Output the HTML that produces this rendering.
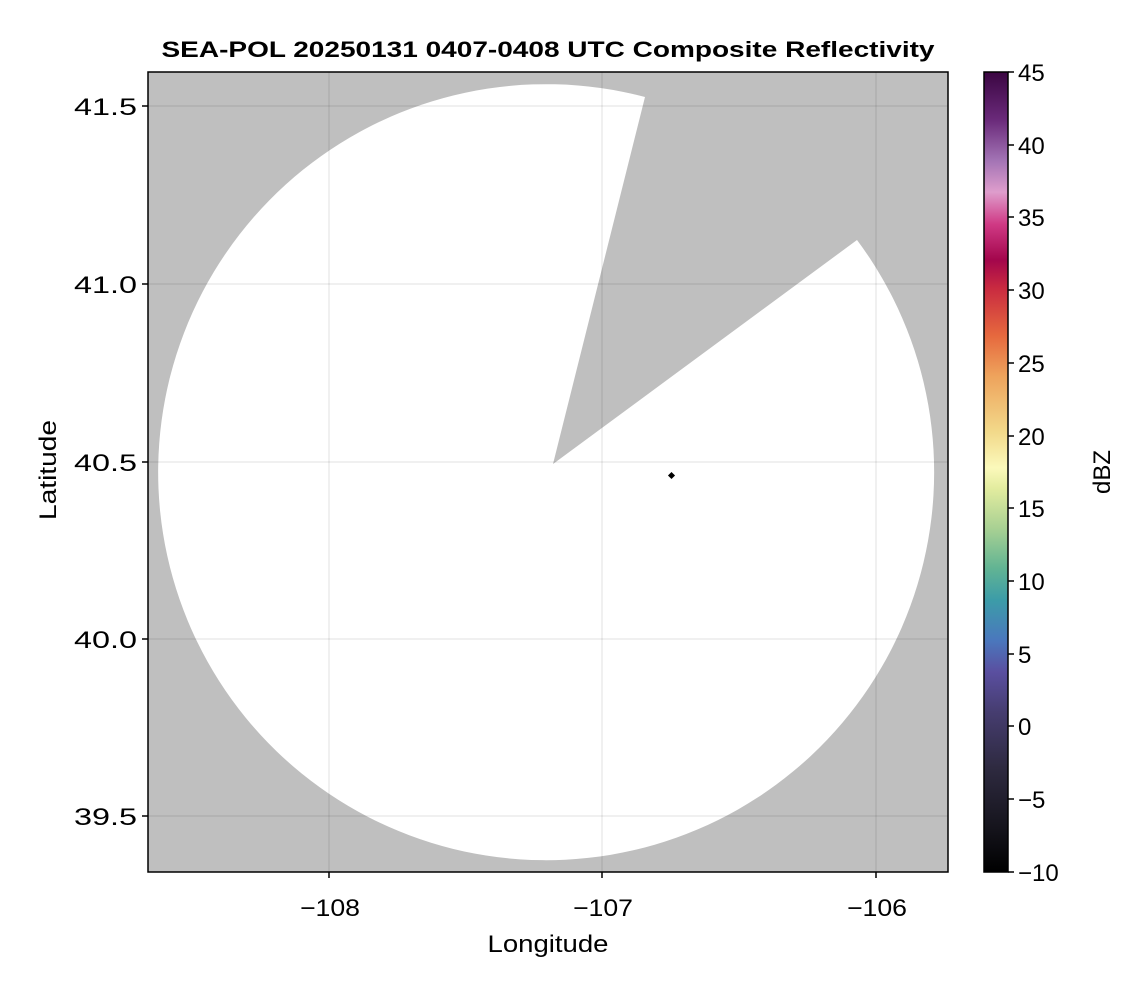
<!DOCTYPE html>
<html><head><style>
body{margin:0;background:#fff;font-family:"Liberation Sans",sans-serif;}
</style></head><body>
<svg width="1146" height="990" xmlns="http://www.w3.org/2000/svg" font-family="Liberation Sans, sans-serif">
<defs>
<linearGradient id="cb" x1="0" y1="1" x2="0" y2="0">
<stop offset="0" stop-color="#000000"/>
<stop offset="0.055" stop-color="#15141c"/>
<stop offset="0.13" stop-color="#2e2a40"/>
<stop offset="0.2" stop-color="#463d70"/>
<stop offset="0.25" stop-color="#5a4fa0"/>
<stop offset="0.29" stop-color="#4a78bd"/>
<stop offset="0.34" stop-color="#3c9ca8"/>
<stop offset="0.38" stop-color="#62b493"/>
<stop offset="0.43" stop-color="#a9d193"/>
<stop offset="0.48" stop-color="#e3ec9f"/>
<stop offset="0.505" stop-color="#fbf9bb"/>
<stop offset="0.55" stop-color="#f2d98a"/>
<stop offset="0.62" stop-color="#eea35c"/>
<stop offset="0.67" stop-color="#e6693e"/>
<stop offset="0.73" stop-color="#c92a40"/>
<stop offset="0.765" stop-color="#a3064c"/>
<stop offset="0.81" stop-color="#d03a85"/>
<stop offset="0.85" stop-color="#de9dcc"/>
<stop offset="0.89" stop-color="#a273b4"/>
<stop offset="0.94" stop-color="#6a2a7a"/>
<stop offset="1" stop-color="#3b0642"/>
</linearGradient>
</defs>
<text x="548" y="57" text-anchor="middle" font-size="22" font-weight="bold" textLength="773" lengthAdjust="spacingAndGlyphs">SEA-POL 20250131 0407-0408 UTC Composite Reflectivity</text>
<rect x="148" y="72" width="800" height="800" fill="#bfbfbf"/>
<path d="M553,464 L645,97 A388,388 0 1 0 857,240 Z" fill="#fff"/>
<g stroke="#000" stroke-opacity="0.12" stroke-width="1">
<line x1="329" y1="72" x2="329" y2="872"/><line x1="602" y1="72" x2="602" y2="872"/><line x1="876" y1="72" x2="876" y2="872"/>
<line x1="148" y1="106" x2="948" y2="106"/><line x1="148" y1="284" x2="948" y2="284"/><line x1="148" y1="462" x2="948" y2="462"/><line x1="148" y1="639" x2="948" y2="639"/><line x1="148" y1="816" x2="948" y2="816"/>
</g>
<rect x="669" y="473" width="5" height="5" fill="#000" transform="rotate(45 671.5 475.5)"/>
<rect x="148" y="72" width="800" height="800" fill="none" stroke="#000" stroke-width="1.5"/>
<g stroke="#000" stroke-width="1.5">
<line x1="329" y1="872" x2="329" y2="878"/><line x1="602" y1="872" x2="602" y2="878"/><line x1="876" y1="872" x2="876" y2="878"/>
<line x1="142" y1="106" x2="148" y2="106"/><line x1="142" y1="284" x2="148" y2="284"/><line x1="142" y1="462" x2="148" y2="462"/><line x1="142" y1="639" x2="148" y2="639"/><line x1="142" y1="816" x2="148" y2="816"/>
</g>
<g font-size="24" text-anchor="middle">
<text x="330" y="916" textLength="60" lengthAdjust="spacingAndGlyphs">−108</text><text x="603" y="916" textLength="60" lengthAdjust="spacingAndGlyphs">−107</text><text x="877" y="916" textLength="60" lengthAdjust="spacingAndGlyphs">−106</text>
</g>
<g font-size="24" text-anchor="end">
<text x="137" y="115" textLength="63" lengthAdjust="spacingAndGlyphs">41.5</text><text x="137" y="293" textLength="63" lengthAdjust="spacingAndGlyphs">41.0</text><text x="137" y="471" textLength="63" lengthAdjust="spacingAndGlyphs">40.5</text><text x="137" y="648" textLength="63" lengthAdjust="spacingAndGlyphs">40.0</text><text x="137" y="825" textLength="63" lengthAdjust="spacingAndGlyphs">39.5</text>
</g>
<text x="548" y="952" font-size="24" text-anchor="middle" textLength="121" lengthAdjust="spacingAndGlyphs">Longitude</text>
<text transform="translate(56 470) rotate(-90)" font-size="24" text-anchor="middle" textLength="100" lengthAdjust="spacingAndGlyphs">Latitude</text>
<rect x="984" y="72" width="24" height="800" fill="url(#cb)" stroke="#000" stroke-width="1.5"/>
<g stroke="#000" stroke-width="1.5">
<line x1="1008" y1="72" x2="1014" y2="72"/><line x1="1008" y1="145" x2="1014" y2="145"/><line x1="1008" y1="217" x2="1014" y2="217"/><line x1="1008" y1="290" x2="1014" y2="290"/><line x1="1008" y1="363" x2="1014" y2="363"/><line x1="1008" y1="436" x2="1014" y2="436"/><line x1="1008" y1="508" x2="1014" y2="508"/><line x1="1008" y1="581" x2="1014" y2="581"/><line x1="1008" y1="654" x2="1014" y2="654"/><line x1="1008" y1="726" x2="1014" y2="726"/><line x1="1008" y1="799" x2="1014" y2="799"/><line x1="1008" y1="872" x2="1014" y2="872"/>
</g>
<g font-size="24">
<text x="1018" y="81">45</text><text x="1018" y="154">40</text><text x="1018" y="226">35</text><text x="1018" y="299">30</text><text x="1018" y="372">25</text><text x="1018" y="445">20</text><text x="1018" y="517">15</text><text x="1018" y="590">10</text><text x="1018" y="663">5</text><text x="1018" y="735">0</text><text x="1018" y="808">−5</text><text x="1018" y="881">−10</text>
</g>
<text transform="translate(1110 472) rotate(-90)" font-size="24" text-anchor="middle">dBZ</text>
</svg>
</body></html>
